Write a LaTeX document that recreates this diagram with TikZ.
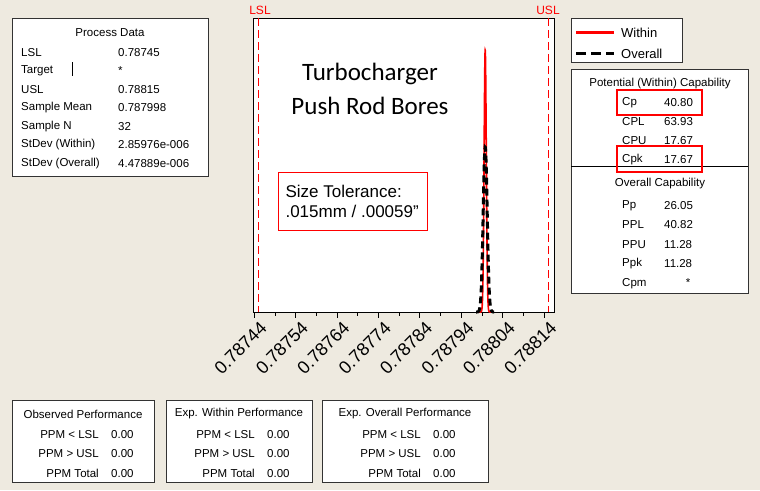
\documentclass[tikz,border=0pt]{standalone}
\usepackage{fontspec}
\setmainfont{Liberation Sans}
\newfontfamily\titlefont{Carlito}
\begin{document}
\begin{tikzpicture}[x=1pt,y=-1pt,
    panel/.style={draw=black!80,fill=white,line width=0.8pt},
    redbox/.style={draw=red,line width=1.3pt},
    txt/.style={font=\fontsize{11.5}{12}\selectfont,anchor=west,inner sep=0pt},
    hdr/.style={font=\fontsize{11.5}{12}\selectfont,inner sep=0pt},
    tick/.style={font=\fontsize{18}{18}\selectfont,rotate=45,anchor=north east,inner sep=1pt},
    limit/.style={red,line width=1pt,dash pattern=on 8pt off 4pt}]
  \useasboundingbox[fill={rgb,255:red,238;green,234;blue,224}] (0,0) rectangle (760,490);

  % process data
  \draw[panel] (12,18) rectangle (208,176);
  \node[hdr] (pdhead) at (110,33) {Process Data};
  \foreach \k/\v [count=\i] in {LSL/0.78745,Target/*,USL/0.78815,Sample Mean/0.787998,
      Sample N/32,StDev (Within)/2.85976e-006,StDev (Overall)/4.47889e-006}{
    \node[txt] (pdk\i) at (21,34+\i*18.5) {\k};
    \node[txt] (pdv\i) at (118,34+\i*18.5) {\v};
  }
  \draw (72,62) -- (72,76);

  % plot
  \draw[fill=white,line width=0.8pt] (253,18) rectangle (554,312);
  \draw[limit] (258,18) -- (258,312);
  \draw[limit] (548,18) -- (548,312);
  \node[red,font=\fontsize{12}{12}\selectfont] (lsl) at (260,10) {LSL};
  \node[red,font=\fontsize{12}{12}\selectfont] (usl) at (548,10) {USL};
  \foreach \v [count=\i from 0] in {78744,78754,78764,78774,78784,78794,78804,78814}{
    \coordinate (t\i) at (254+\i*41.4,312);
    \draw (t\i) -- ++(0,6);
    \node[tick] (tl\i) at ([shift={(5pt,-7pt)}]t\i) {0.\v};
  }
  \foreach \i in {0,...,6}{
    \draw (254+\i*41.4+20.7,312) -- ++(0,4);
  }
  \draw[red,line width=1.6pt] plot[domain=478:492,samples=80,smooth] (\x,{312-262*exp(-((\x-485.2)^2)/(2*1.1^2))});
  \draw[black,line width=3pt,dash pattern=on 7pt off 4pt] plot[domain=476:494,samples=80,smooth] (\x,{312-165*exp(-((\x-485.2)^2)/(2*2.0^2))});

  \node[font=\titlefont\fontsize{25}{34}\selectfont,align=center] (title) at (370,89) {Turbocharger\\Push Rod Bores};
  \draw[redbox,line width=1pt] (278,172) rectangle (427,230);
  \node[font=\fontsize{17}{20}\selectfont,align=left,anchor=west] (tol) at (282,201) {Size Tolerance:\\.015mm / .00059”};

  % legend
  \draw[panel] (571,18) rectangle (682,62);
  \draw[red,line width=3pt] (576,32) -- (614,32);
  \draw[black,line width=3pt,dash pattern=on 10pt off 5pt] (576,53) -- (614,53);
  \node[txt,font=\fontsize{13}{14}\selectfont] (lw) at (621,33) {Within};
  \node[txt,font=\fontsize{13}{14}\selectfont] (lo) at (621,54) {Overall};

  % capability
  \draw[panel] (571,69) rectangle (748,293);
  \draw (571,166) -- (748,166);
  \node[hdr] (pot) at (660,84) {Potential (Within) Capability};
  \foreach \k/\v [count=\i] in {Cp/40.80,CPL/63.93,CPU/17.67,Cpk/17.67}{
    \node[txt] (ck\i) at (622,84+\i*19) {\k};
    \node[txt] (cv\i) at (664,84+\i*19) {\v};
  }
  \node[hdr] (ovr) at (660,184) {Overall Capability};
  \foreach \k/\v [count=\i] in {Pp/26.05,PPL/40.82,PPU/11.28,Ppk/11.28}{
    \node[txt] (pk\i) at (622,186+\i*19.5) {\k};
    \node[txt] (pv\i) at (664,186+\i*19.5) {\v};
  }
  \node[txt] (pk5) at (622,284) {Cpm};
  \node[hdr] (pv5) at (688,283) {*};
  \draw[redbox] (617,90) rectangle (702,115);
  \draw[redbox] (617,146) rectangle (702,172);

  % performance boxes
  \foreach \x/\w/\h [count=\j] in {12/142/Observed Performance,166/146/Exp. Within Performance,322/166/Exp. Overall Performance}{
    \draw[panel] (\x,400) rectangle (\x+\w,482);
    \node[hdr] (ph\j) at (\x+\w/2,414) {\h};
    \foreach \k [count=\i] in {PPM < LSL,PPM > USL,PPM Total}{
      \node[txt,anchor=east] (pf\j\i) at (\x+\w/2+16,415+\i*19.5) {\k};
      \node[txt] (pn\j\i) at (\x+\w/2+28,415+\i*19.5) {0.00};
    }
  }
\end{tikzpicture}
\end{document}
